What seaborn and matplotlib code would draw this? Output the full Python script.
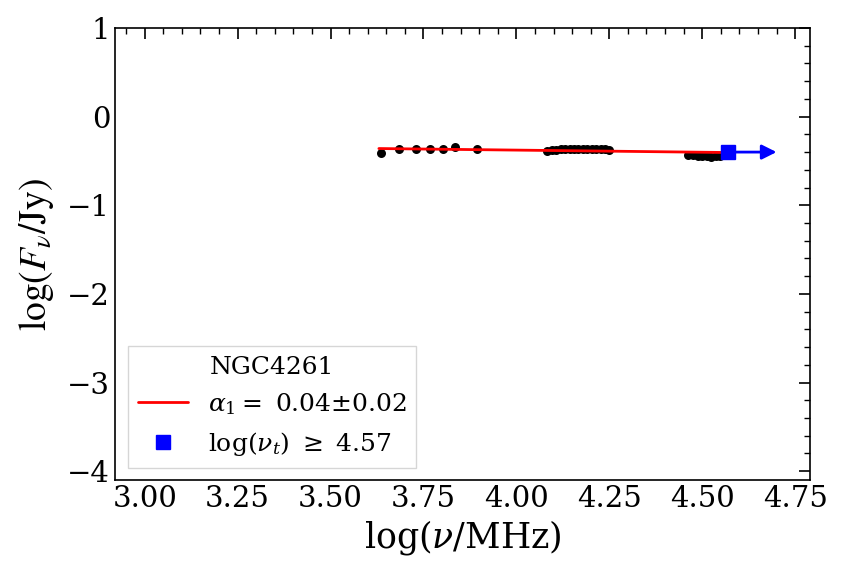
import numpy as np
import pandas as pd
import matplotlib
matplotlib.use("Agg")
import matplotlib.pyplot as plt
import seaborn as sns

# observed spectrum points (log nu [MHz], log F [Jy])
log_nu = [3.636, 3.684, 3.730, 3.767, 3.802, 3.834, 3.893,
          4.083, 4.095, 4.107, 4.119, 4.131, 4.143, 4.155, 4.167, 4.179, 4.191,
          4.203, 4.215, 4.227, 4.239, 4.250,
          4.462, 4.475, 4.488, 4.500, 4.512, 4.524, 4.536, 4.548]
log_flux = [-0.41, -0.36, -0.37, -0.37, -0.37, -0.34, -0.36,
            -0.39, -0.38, -0.38, -0.37, -0.37, -0.37, -0.37, -0.37, -0.37, -0.37,
            -0.37, -0.37, -0.37, -0.37, -0.38,
            -0.43, -0.43, -0.44, -0.44, -0.44, -0.45, -0.44, -0.44]

# power-law fit line
fit_x = [3.63, 4.57]
fit_y = [-0.36, -0.405]

# turnover lower limit
turn_x = [4.57]
turn_y = [-0.40]
arrow_end = 4.70

source = "NGC4261"
alpha_label = r"$\alpha_1 =$ 0.04$\pm$0.02"
turn_label = r"log($\nu_t$) $\geq$ 4.57"

sns.set_style("white")
plt.rcParams['font.family'] = ['DejaVu Serif']
plt.rcParams['mathtext.fontset'] = 'dejavuserif'
for k in ['text.color', 'axes.labelcolor', 'xtick.color', 'ytick.color']:
    plt.rcParams[k] = 'black'

fig = plt.figure(figsize=(8.43, 5.79), dpi=100)
ax = fig.add_axes([115/843, 1-480/579, 695/843, 452/579])

pts = pd.DataFrame({'x': log_nu, 'y': log_flux})
sns.scatterplot(data=pts, x='x', y='y', color='black', s=42, edgecolor='black', linewidth=0, ax=ax, zorder=3)
sns.lineplot(x=fit_x, y=fit_y, color='red', linewidth=2, ax=ax, label=alpha_label, zorder=4)
ax.annotate('', xy=(arrow_end, turn_y[0]), xytext=(turn_x[0], turn_y[0]),
            arrowprops=dict(arrowstyle='-|>', color='blue', lw=2, mutation_scale=22,
                            shrinkA=0, shrinkB=0), zorder=5)
ax.plot(turn_x, turn_y, 's', color='blue', markersize=10, label=turn_label, zorder=6, linestyle='none')

ax.set_xlim(2.92, 4.79)
ax.set_ylim(-4.1, 1.0)
ax.set_xticks([3.00, 3.25, 3.50, 3.75, 4.00, 4.25, 4.50, 4.75])
ax.set_yticks([-4, -3, -2, -1, 0, 1])
ax.minorticks_on()
ax.tick_params(which='both', direction='in', top=True, right=True, labelsize=21)
ax.tick_params(which='major', length=8, width=1.2)
ax.tick_params(which='minor', length=4.5, width=1)
for sp in ax.spines.values():
    sp.set_color('black')
    sp.set_linewidth(1.2)

ax.set_xlabel(r"log($\nu$/MHz)", fontsize=25)
ax.set_ylabel(r"$\log(F_{\nu}/\mathrm{Jy})$", fontsize=27, math_fontfamily='stix', labelpad=8)

leg = ax.legend(loc='lower left', title=source, fontsize=18, title_fontsize=18,
                frameon=True, fancybox=False)
leg.get_frame().set_edgecolor('#cccccc')

fig.savefig("out.png", dpi=100)
